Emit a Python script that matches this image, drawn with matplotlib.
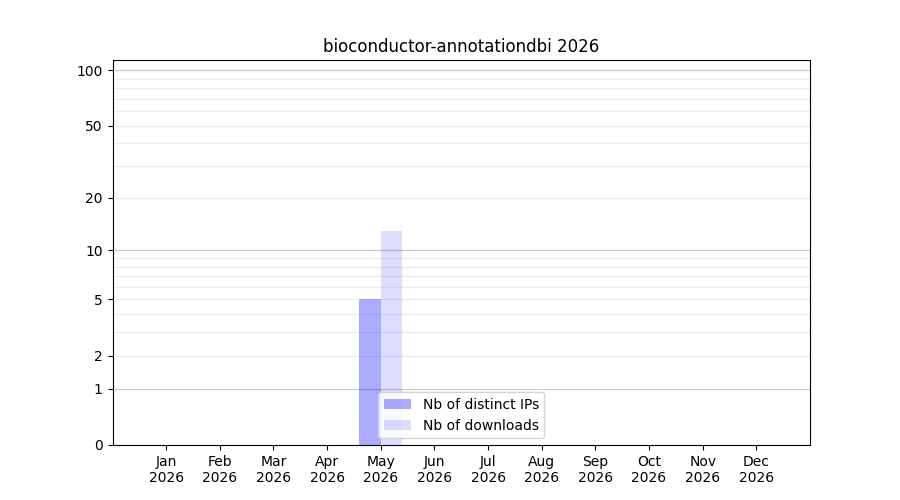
import numpy as np
import matplotlib
matplotlib.use("Agg")
import matplotlib.pyplot as plt

title = "bioconductor-annotationdbi 2026"
months = ["Jan", "Feb", "Mar", "Apr", "May", "Jun", "Jul", "Aug", "Sep", "Oct", "Nov", "Dec"]
year = "2026"
distinct_ips = [0, 0, 0, 0, 5, 0, 0, 0, 0, 0, 0, 0]
downloads = [0, 0, 0, 0, 13, 0, 0, 0, 0, 0, 0, 0]
ytick_vals = [0, 1, 2, 5, 10, 20, 50, 100]


def fwd(v):
    return np.log10(1 + np.maximum(v, 0))


def inv(v):
    return 10 ** v - 1


fig, ax = plt.subplots(figsize=(9, 5), dpi=100)
x = np.arange(len(months))

ax.bar(x, distinct_ips, width=-0.4, align="edge", color="blue", alpha=0.33,
       label="Nb of distinct IPs", zorder=2)
ax.bar(x, downloads, width=0.4, align="edge", color="blue", alpha=0.135,
       label="Nb of downloads", zorder=2)

ax.set_yscale("function", functions=(fwd, inv))
ax.set_ylim(0, 113.5)
ax.set_xlim(-1, 12)

# grid lines: decades darker, in-between values lighter
for d in [1, 10, 100]:
    ax.axhline(d, color="#cccccc", lw=0.9, zorder=0)
    for k in range(2, 10):
        if d * k < 113:
            ax.axhline(d * k, color="#ececec", lw=0.8, zorder=0)

ax.set_yticks(ytick_vals)
ax.set_yticklabels([str(v) for v in ytick_vals])
ax.minorticks_off()
ax.set_xticks(x)
ax.set_xticklabels([m + "\n" + year for m in months])

ax.set_title(title)
ax.legend(loc="lower center")

fig.savefig("out.png")
